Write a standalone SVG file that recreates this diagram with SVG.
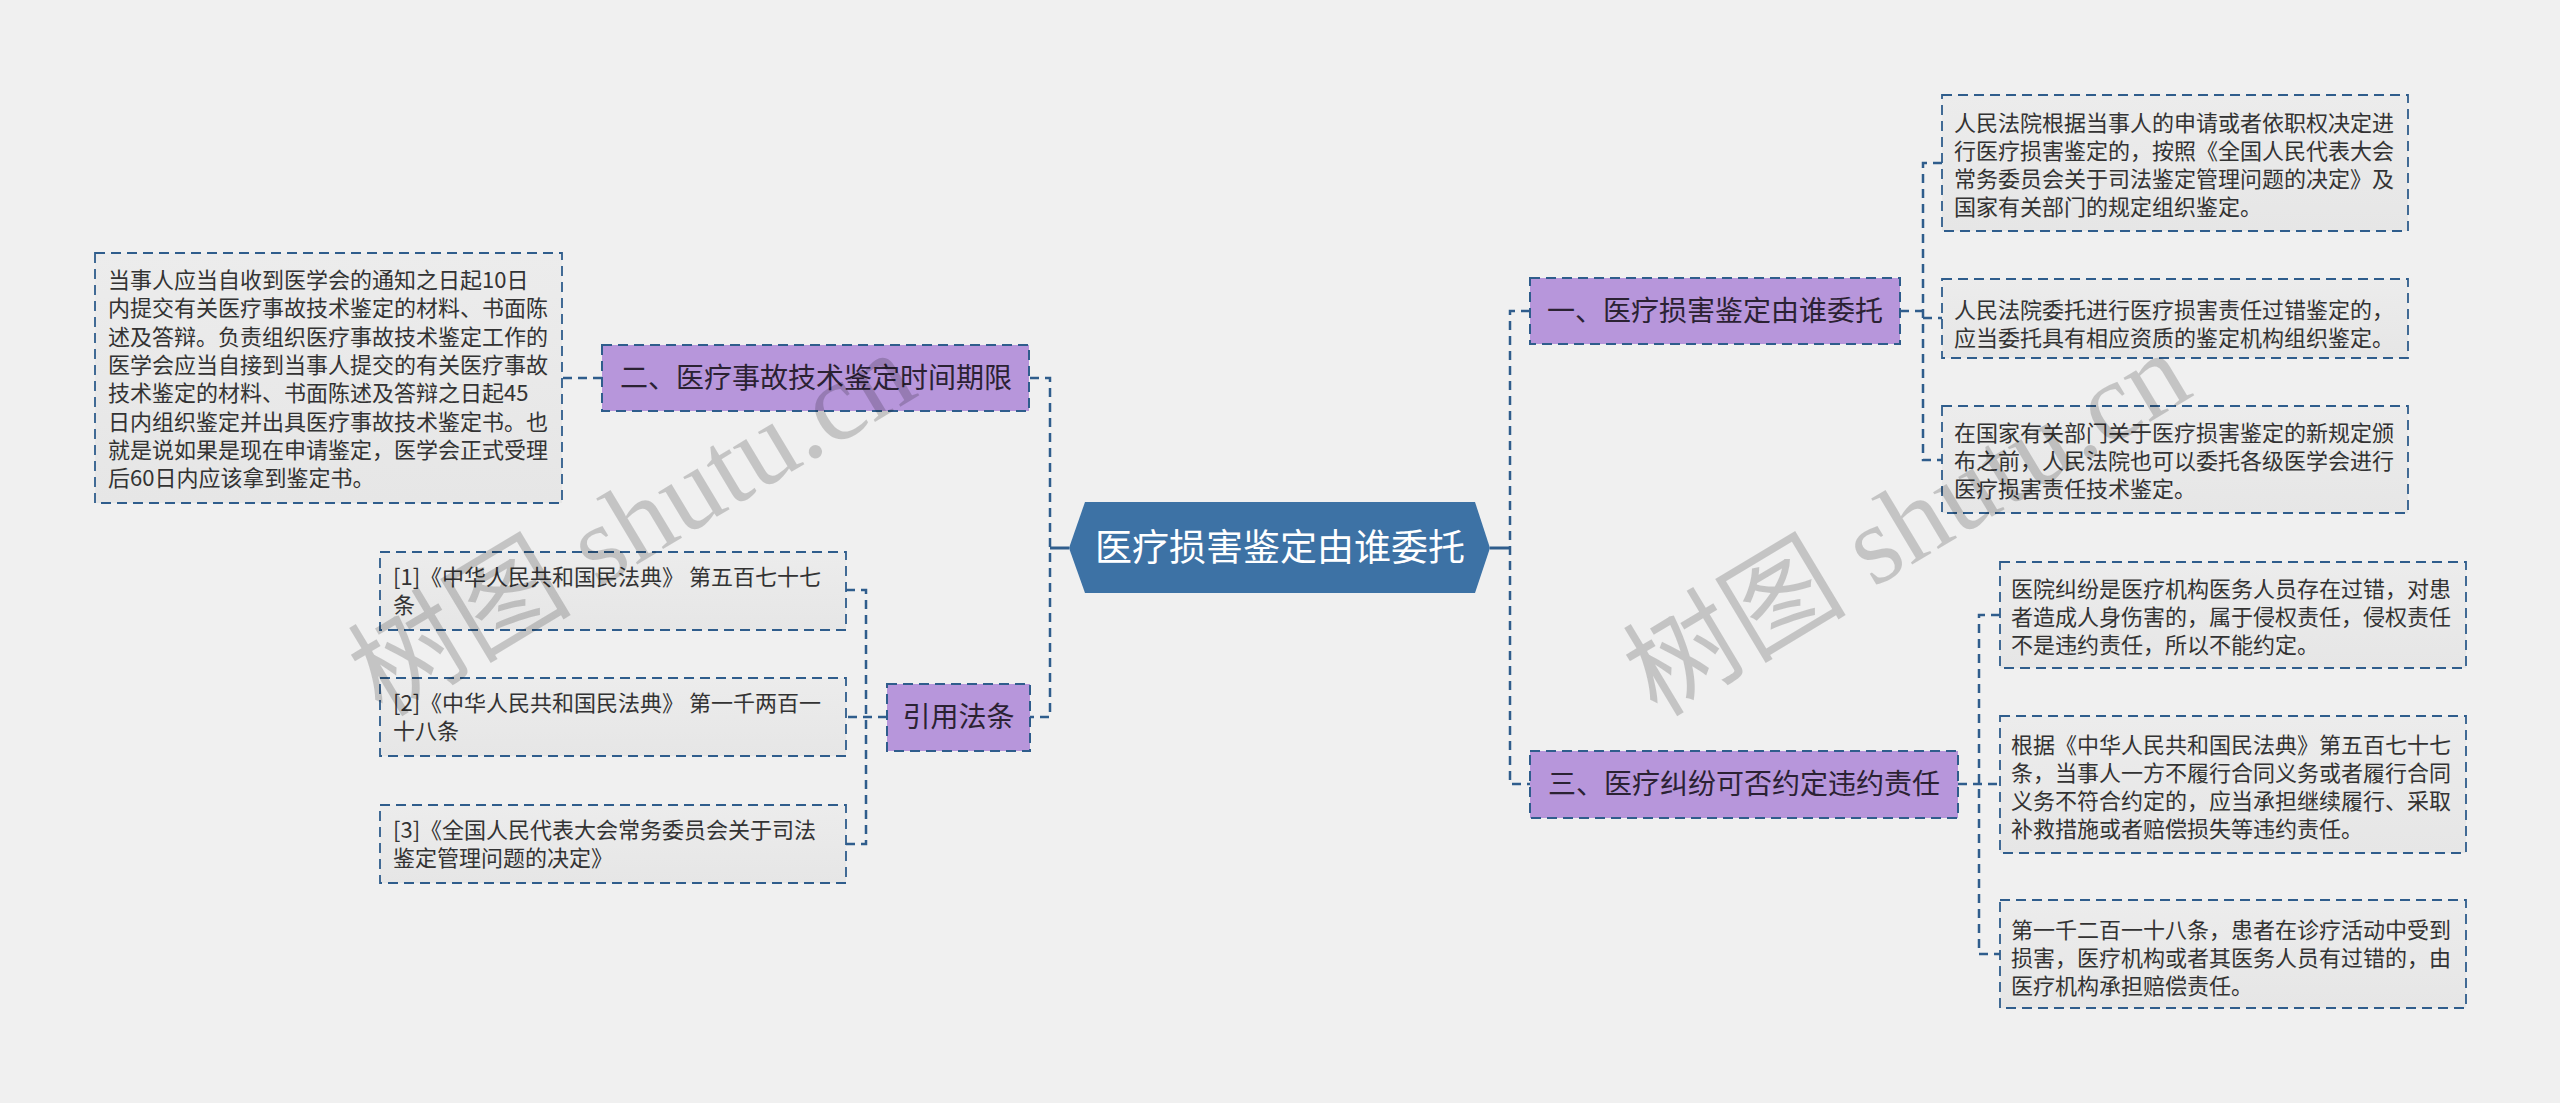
<svg xmlns="http://www.w3.org/2000/svg" width="2560" height="1103" viewBox="0 0 2560 1103">
<defs>
<style>
.bg{fill:#f0f0f0}
.conn{fill:none;stroke:#2f5d8c;stroke-width:2.5;stroke-dasharray:9 6}
.solid{fill:none;stroke:#2f5d8c;stroke-width:3}
.leaf{fill:url(#leafGrad);stroke:#2f5d8c;stroke-width:1.8;stroke-dasharray:10 6}
.sub{fill:#b796db;stroke:#2f5d8c;stroke-width:2;stroke-dasharray:10 6}
.root{fill:#3d72a5}
.t{font-family:"Noto Sans CJK SC","Microsoft YaHei",sans-serif;}
.lt{font-size:22px;fill:#333333}
.st{font-size:28px;fill:#2b2233;text-anchor:middle}
.rt{font-size:37px;fill:#ffffff;text-anchor:middle}
.wm{font-family:"Liberation Serif","Noto Sans CJK SC",serif;font-size:112px;fill:#000000;fill-opacity:0.18}
</style>
<linearGradient id="leafGrad" x1="0" y1="0" x2="0" y2="1">
<stop offset="0" stop-color="#ececec"/>
<stop offset="1" stop-color="#e6e6e6"/>
</linearGradient>
</defs>
<rect class="bg" x="0" y="0" width="2560" height="1103"/>

<g id="connectors">
<path class="solid" d="M1069,548 H1050"/>
<path class="solid" d="M1490,548 H1510"/>
<path class="conn" d="M1030,378 H1050 V717 H1030"/>
<path class="conn" d="M1530,311 H1510 V784 H1530"/>
<path class="conn" d="M602,378 H562"/>
<path class="conn" d="M846,590 H866 V844 H846"/>
<path class="conn" d="M887,717 H846"/>
<path class="conn" d="M1900,311 H1923"/>
<path class="conn" d="M1942,163 H1923 V460 H1942"/>
<path class="conn" d="M1923,318 H1942"/>
<path class="conn" d="M1958,784 H2000"/>
<path class="conn" d="M2000,615 H1979 V954 H2000"/>
</g>

<g id="root">
<polygon class="root" points="1069,548 1085,502 1475,502 1490,548 1475,593 1085,593"/>
<text class="t rt" x="1280" y="561">医疗损害鉴定由谁委托</text>
</g>

<g id="node-er">
<rect class="sub" x="602" y="345" width="427" height="66"/>
<text class="t st" x="816" y="388">二、医疗事故技术鉴定时间期限</text>
</g>

<g id="leaf-er">
<rect class="leaf" x="95" y="253" width="467" height="250"/>
<text class="t lt">
<tspan x="108" y="288">当事人应当自收到医学会的通知之日起10日</tspan>
<tspan x="108" y="316.3">内提交有关医疗事故技术鉴定的材料、书面陈</tspan>
<tspan x="108" y="344.6">述及答辩。负责组织医疗事故技术鉴定工作的</tspan>
<tspan x="108" y="372.9">医学会应当自接到当事人提交的有关医疗事故</tspan>
<tspan x="108" y="401.2">技术鉴定的材料、书面陈述及答辩之日起45</tspan>
<tspan x="108" y="429.5">日内组织鉴定并出具医疗事故技术鉴定书。也</tspan>
<tspan x="108" y="457.8">就是说如果是现在申请鉴定，医学会正式受理</tspan>
<tspan x="108" y="486.1">后60日内应该拿到鉴定书。</tspan>
</text>
</g>

<g id="node-yinyong">
<rect class="sub" x="887" y="684" width="143" height="67"/>
<text class="t st" x="958.5" y="727">引用法条</text>
</g>

<g id="ref-1">
<rect class="leaf" x="380" y="552" width="466" height="78"/>
<text class="t lt"><tspan x="393" y="585">[1]《中华人民共和国民法典》 第五百七十七</tspan><tspan x="393" y="613">条</tspan></text>
</g>
<g id="ref-2">
<rect class="leaf" x="380" y="678" width="466" height="78"/>
<text class="t lt"><tspan x="393" y="711">[2]《中华人民共和国民法典》 第一千两百一</tspan><tspan x="393" y="739">十八条</tspan></text>
</g>
<g id="ref-3">
<rect class="leaf" x="380" y="805" width="466" height="78"/>
<text class="t lt"><tspan x="393" y="838">[3]《全国人民代表大会常务委员会关于司法</tspan><tspan x="393" y="866">鉴定管理问题的决定》</tspan></text>
</g>

<g id="node-yi">
<rect class="sub" x="1530" y="278" width="370" height="66"/>
<text class="t st" x="1715" y="321">一、医疗损害鉴定由谁委托</text>
</g>
<g id="leaf-yi-1">
<rect class="leaf" x="1942" y="95" width="466" height="136"/>
<text class="t lt">
<tspan x="1954" y="131">人民法院根据当事人的申请或者依职权决定进</tspan>
<tspan x="1954" y="159">行医疗损害鉴定的，按照《全国人民代表大会</tspan>
<tspan x="1954" y="187">常务委员会关于司法鉴定管理问题的决定》及</tspan>
<tspan x="1954" y="215">国家有关部门的规定组织鉴定。</tspan>
</text>
</g>
<g id="leaf-yi-2">
<rect class="leaf" x="1942" y="279" width="466" height="79"/>
<text class="t lt">
<tspan x="1954" y="318">人民法院委托进行医疗损害责任过错鉴定的，</tspan>
<tspan x="1954" y="346">应当委托具有相应资质的鉴定机构组织鉴定。</tspan>
</text>
</g>
<g id="leaf-yi-3">
<rect class="leaf" x="1942" y="406" width="466" height="107"/>
<text class="t lt">
<tspan x="1954" y="441">在国家有关部门关于医疗损害鉴定的新规定颁</tspan>
<tspan x="1954" y="469">布之前，人民法院也可以委托各级医学会进行</tspan>
<tspan x="1954" y="497">医疗损害责任技术鉴定。</tspan>
</text>
</g>

<g id="node-san">
<rect class="sub" x="1530" y="751" width="428" height="67"/>
<text class="t st" x="1744" y="794">三、医疗纠纷可否约定违约责任</text>
</g>
<g id="leaf-san-1">
<rect class="leaf" x="2000" y="562" width="466" height="106"/>
<text class="t lt">
<tspan x="2011" y="597">医院纠纷是医疗机构医务人员存在过错，对患</tspan>
<tspan x="2011" y="625">者造成人身伤害的，属于侵权责任，侵权责任</tspan>
<tspan x="2011" y="653">不是违约责任，所以不能约定。</tspan>
</text>
</g>
<g id="leaf-san-2">
<rect class="leaf" x="2000" y="716" width="466" height="137"/>
<text class="t lt">
<tspan x="2011" y="753">根据《中华人民共和国民法典》第五百七十七</tspan>
<tspan x="2011" y="781">条，当事人一方不履行合同义务或者履行合同</tspan>
<tspan x="2011" y="809">义务不符合约定的，应当承担继续履行、采取</tspan>
<tspan x="2011" y="837">补救措施或者赔偿损失等违约责任。</tspan>
</text>
</g>
<g id="leaf-san-3">
<rect class="leaf" x="2000" y="900" width="466" height="108"/>
<text class="t lt">
<tspan x="2011" y="938">第一千二百一十八条，患者在诊疗活动中受到</tspan>
<tspan x="2011" y="966">损害，医疗机构或者其医务人员有过错的，由</tspan>
<tspan x="2011" y="994">医疗机构承担赔偿责任。</tspan>
</text>
</g>

<g id="watermarks">
<text class="wm" transform="translate(382,718) rotate(-31)" x="0" y="0">树图 shutu.cn</text>
<text class="wm" transform="translate(1657,718) rotate(-31)" x="0" y="0">树图 shutu.cn</text>
</g>
</svg>
